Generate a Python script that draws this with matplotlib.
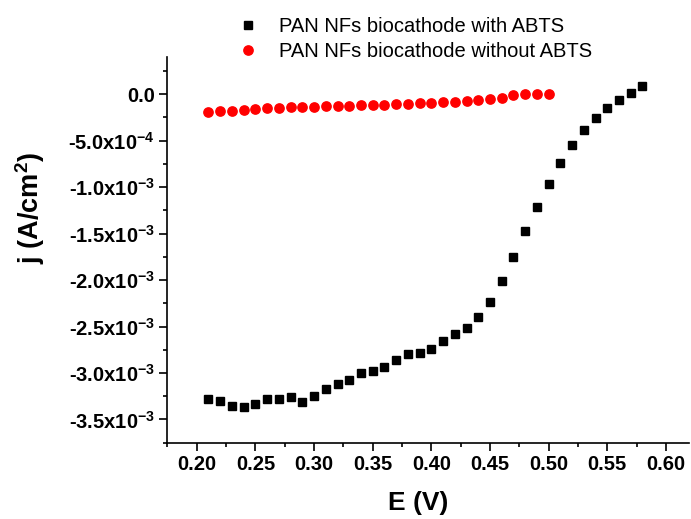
import numpy as np
import matplotlib
matplotlib.use('Agg')
from matplotlib import pyplot as plt
from matplotlib.ticker import MultipleLocator, FuncFormatter

plt.rcParams['font.family'] = ['Liberation Sans', 'DejaVu Sans']
plt.rcParams['mathtext.default'] = 'regular'

# potential (V)
E_with = [0.21, 0.22, 0.23, 0.24, 0.25, 0.26, 0.27, 0.28, 0.29, 0.30,
          0.31, 0.32, 0.33, 0.34, 0.35, 0.36, 0.37, 0.38, 0.39, 0.40,
          0.41, 0.42, 0.43, 0.44, 0.45, 0.46, 0.47, 0.48, 0.49, 0.50,
          0.51, 0.52, 0.53, 0.54, 0.55, 0.56, 0.57, 0.58]
# current density (A/cm2), with ABTS
j_with = [-3.28e-3, -3.30e-3, -3.36e-3, -3.37e-3, -3.33e-3, -3.28e-3, -3.275e-3, -3.26e-3, -3.31e-3, -3.25e-3,
          -3.175e-3, -3.12e-3, -3.08e-3, -3.00e-3, -2.98e-3, -2.93e-3, -2.86e-3, -2.80e-3, -2.78e-3, -2.74e-3,
          -2.66e-3, -2.58e-3, -2.52e-3, -2.395e-3, -2.24e-3, -2.01e-3, -1.75e-3, -1.47e-3, -1.21e-3, -0.97e-3,
          -0.745e-3, -0.55e-3, -0.39e-3, -0.26e-3, -0.147e-3, -0.057e-3, 0.015e-3, 0.086e-3]

E_without = [0.21, 0.22, 0.23, 0.24, 0.25, 0.26, 0.27, 0.28, 0.29, 0.30,
             0.31, 0.32, 0.33, 0.34, 0.35, 0.36, 0.37, 0.38, 0.39, 0.40,
             0.41, 0.42, 0.43, 0.44, 0.45, 0.46, 0.47, 0.48, 0.49, 0.50]
j_without = [-1.90e-4, -1.83e-4, -1.76e-4, -1.65e-4, -1.58e-4, -1.51e-4, -1.47e-4, -1.40e-4, -1.36e-4, -1.33e-4,
             -1.29e-4, -1.26e-4, -1.22e-4, -1.18e-4, -1.15e-4, -1.11e-4, -1.04e-4, -1.00e-4, -0.97e-4, -0.93e-4,
             -0.86e-4, -0.79e-4, -0.68e-4, -0.57e-4, -0.46e-4, -0.39e-4, -0.03e-4, 0.0, 0.0, 0.0]


def yfmt(v, pos):
    if abs(v) < 1e-12:
        return '0.0'
    exp = int(np.floor(np.log10(abs(v))))
    mant = v / 10 ** exp
    return '%.1fx10$^{%d}$' % (mant, exp)


fig = plt.figure(figsize=(6.91, 5.19), dpi=100)
ax = fig.add_axes([0.2423, 0.147, 0.7554, 0.743])

ax.plot(E_with, j_with, 's', color='black', ms=5.8, label='PAN NFs biocathode with ABTS')
ax.plot(E_without, j_without, 'o', color='red', ms=6.7, label='PAN NFs biocathode without ABTS')

ax.set_xlim(0.175, 0.62)
ax.set_ylim(-3.75e-3, 4e-4)
ax.xaxis.set_major_locator(MultipleLocator(0.05))
ax.xaxis.set_minor_locator(MultipleLocator(0.025))
ax.yaxis.set_major_locator(MultipleLocator(5e-4))
ax.yaxis.set_minor_locator(MultipleLocator(2.5e-4))
ax.xaxis.set_major_formatter(FuncFormatter(lambda v, p: '%.2f' % v))
ax.yaxis.set_major_formatter(FuncFormatter(yfmt))

for s in ['top', 'right']:
    ax.spines[s].set_visible(False)
for s in ['left', 'bottom']:
    ax.spines[s].set_linewidth(1.2)
ax.tick_params(which='major', direction='out', length=5.5, width=1.2, labelsize=14.5, pad=3.6)
ax.tick_params(which='minor', direction='out', length=3, width=1.2)
for lab in ax.get_xticklabels() + ax.get_yticklabels():
    lab.set_fontweight('bold')

ax.set_xlabel('E (V)', fontsize=19, fontweight='bold')
ax.set_ylabel('j (A/cm$^2$)', fontsize=19.5, fontweight='bold')
ax.xaxis.set_label_coords(0.48, -0.125)
ax.yaxis.set_label_coords(-0.231, 0.609)

fig.legend(loc='upper left', bbox_to_anchor=(0.337, 0.967), frameon=False, fontsize=14.5,
           handlelength=1.5, handletextpad=0.79, borderpad=0, borderaxespad=0, labelspacing=0.27)

fig.savefig('out.png', dpi=100)
